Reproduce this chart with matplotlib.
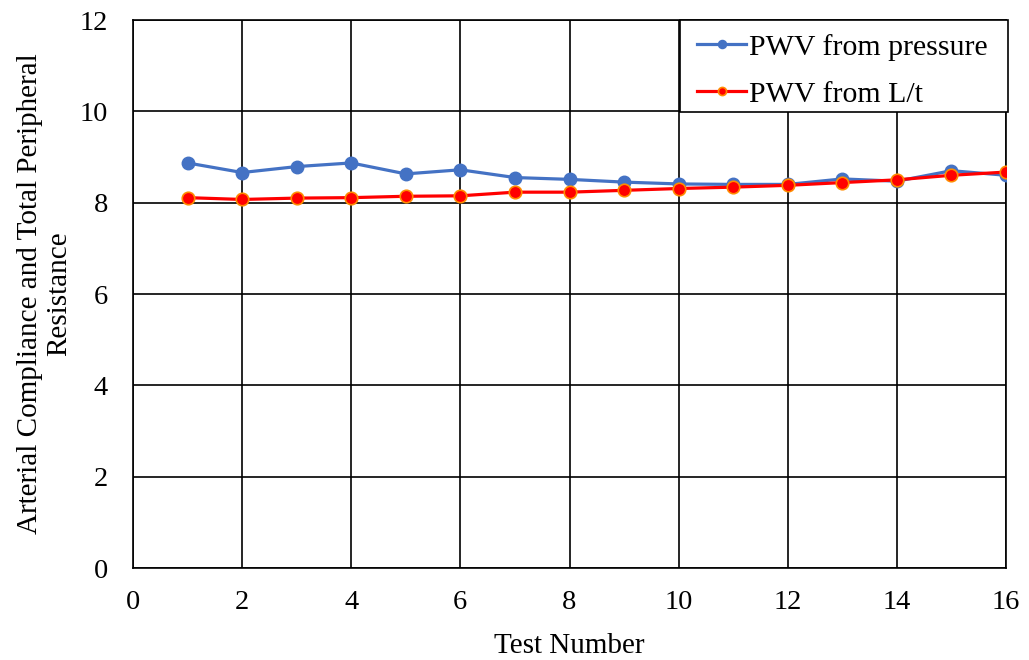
import matplotlib
matplotlib.use("Agg")
import matplotlib.pyplot as plt
from matplotlib.patches import Rectangle
from matplotlib.transforms import IdentityTransform

test_number = list(range(1, 17))
pwv_pressure = [8.87, 8.66, 8.79, 8.87, 8.63, 8.72, 8.55, 8.51,
                8.45, 8.41, 8.40, 8.40, 8.52, 8.47, 8.70, 8.60]
pwv_lt = [8.11, 8.07, 8.10, 8.11, 8.14, 8.15, 8.23, 8.23,
          8.27, 8.31, 8.34, 8.38, 8.44, 8.50, 8.60, 8.67]
x_ticks = list(range(0, 17, 2))
y_ticks = list(range(0, 13, 2))

plt.rcParams["font.family"] = ["Liberation Serif", "DejaVu Serif"]

fig = plt.figure(figsize=(10.29, 6.6), dpi=100)
ax = fig.add_axes([133 / 1029, 1 - 568 / 660, (1006 - 133) / 1029, (568 - 20) / 660])

ax.plot(test_number, pwv_pressure, color="#4472C4", lw=2.3, marker="o",
        ms=9, mfc="#4472C4", mec="#4472C4", label="PWV from pressure", zorder=3)
ax.plot(test_number, pwv_lt, color="#FF0000", lw=2.3, marker="o",
        ms=9, mfc="#FF0000", mec="#FF8C00", mew=1.2, label="PWV from L/t", zorder=4)

ax.set_xlim(0, 16)
ax.set_ylim(0, 12)
ax.set_xticks(x_ticks)
ax.set_yticks(y_ticks)
ax.grid(True, color="black", lw=1.2)
ax.set_axisbelow(True)
for s in ax.spines.values():
    s.set_color("black")
    s.set_linewidth(1.2)
ax.tick_params(axis="both", length=0, labelsize=20.5)
ax.tick_params(axis="y", pad=18)
ax.tick_params(axis="x", pad=16)

ax.set_xlabel("Test Number", fontsize=21, labelpad=13)
ax.set_ylabel("Arterial Compliance and Total Peripheral\nResistance", fontsize=21,
              labelpad=5, linespacing=1.2)

# legend content without its own frame; a wider box is drawn behind it
leg = ax.legend(loc="upper right", bbox_to_anchor=(0.986, 1.0 - 8 / 548),
                borderaxespad=0, fontsize=21.5, frameon=False, handlelength=1.65,
                handletextpad=0.1, borderpad=0.2, labelspacing=0.67,
                markerscale=0.65)
leg.set_zorder(10)

fig.canvas.draw()
renderer = fig.canvas.get_renderer()
bb = leg.get_window_extent(renderer)
top = ax.get_window_extent(renderer).y1
bottom = bb.y0 + 2
box = Rectangle((bb.x0 - 11, bottom), bb.width + 25, top - bottom,
                transform=IdentityTransform(), facecolor="white",
                edgecolor="black", lw=1.2, zorder=9, clip_on=False)
ax.add_patch(box)

fig.savefig("out.png", dpi=100)
